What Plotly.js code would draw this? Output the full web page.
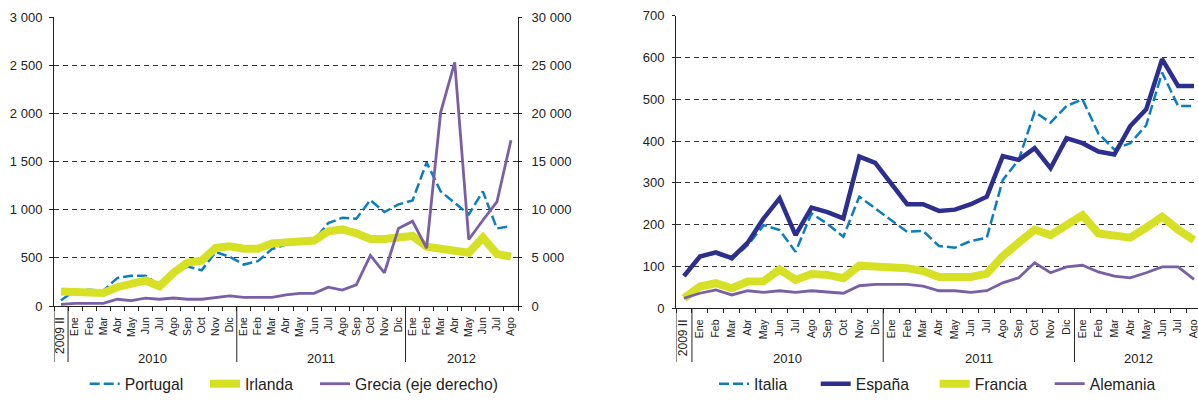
<!DOCTYPE html>
<html>
<head>
<meta charset="utf-8">
<script src="https://cdn.plot.ly/plotly-3.0.1.min.js"></script>
<style>
  html, body { margin: 0; padding: 0; background: #fff; }
  #chart { width: 1198px; height: 401px; }
</style>
</head>
<body>
<div id="chart"></div>
<script>
// ---- Categories and tick labels ----
const periods = ["2009 II",
  "Ene 2010","Feb 2010","Mar 2010","Abr 2010","May 2010","Jun 2010","Jul 2010","Ago 2010","Sep 2010","Oct 2010","Nov 2010","Dic 2010",
  "Ene 2011","Feb 2011","Mar 2011","Abr 2011","May 2011","Jun 2011","Jul 2011","Ago 2011","Sep 2011","Oct 2011","Nov 2011","Dic 2011",
  "Ene 2012","Feb 2012","Mar 2012","Abr 2012","May 2012","Jun 2012","Jul 2012","Ago 2012"];
const monthTicks = ["2009 II",
  "Ene","Feb","Mar","Abr","May","Jun","Jul","Ago","Sep","Oct","Nov","Dic",
  "Ene","Feb","Mar","Abr","May","Jun","Jul","Ago","Sep","Oct","Nov","Dic",
  "Ene","Feb","Mar","Abr","May","Jun","Jul","Ago"];
const yearLabels = ["2010", "2011", "2012"];

// ---- Left chart series ----
const portugal = [60, 160, 168, 160, 290, 315, 315, 220, 340, 410, 371, 560, 511, 430, 465, 590, 640, 670, 680, 860, 915, 905, 1100, 975, 1055, 1095, 1490, 1190, 1070, 950, 1190, 805, 830];
const irlanda  = [150, 150, 145, 135, 195, 240, 265, 205, 345, 450, 470, 605, 620, 595, 595, 650, 665, 675, 680, 775, 795, 755, 695, 695, 713, 727, 615, 598, 573, 552, 710, 540, 512];
const grecia   = [175, 270, 270, 270, 700, 550, 820, 700, 830, 700, 700, 870, 1040, 900, 900, 900, 1150, 1320, 1320, 1950, 1650, 2200, 5250, 3450, 8050, 8800, 6000, 20100, 25300, 6900, 8900, 10800, 17200];

// ---- Right chart series ----
const italia   = [80, 125, 131, 117, 151, 199, 187, 135, 227, 202, 171, 267, 239, 210, 183, 185, 149, 145, 161, 169, 307, 355, 470, 444, 484, 500, 418, 380, 395, 438, 564, 484, 484];
const espana   = [77, 124, 134, 120, 157, 215, 263, 175, 241, 230, 215, 363, 348, 300, 249, 249, 233, 236, 249, 267, 364, 355, 383, 335, 407, 395, 375, 368, 436, 476, 596, 532, 532];
const francia  = [24, 52, 60, 48, 64, 65, 93, 68, 82, 80, 72, 102, 100, 98, 96, 89, 75, 75, 75, 83, 125, 157, 188, 175, 201, 223, 179, 175, 169, 193, 219, 188, 163];
const alemania = [24, 36, 44, 32, 42, 38, 42, 38, 42, 39, 36, 54, 57, 57, 57, 53, 42, 42, 38, 42, 61, 73, 109, 85, 99, 103, 87, 77, 73, 85, 99, 99, 69];

// ---- Axis tick values / labels ----
const leftTicks = [0, 500, 1000, 1500, 2000, 2500, 3000];
const leftTickText = ["0", "500", "1 000", "1 500", "2 000", "2 500", "3 000"];
const rightTicks = [0, 5000, 10000, 15000, 20000, 25000, 30000];
const rightTickText = ["0", "5 000", "10 000", "15 000", "20 000", "25 000", "30 000"];
const right2Ticks = [0, 100, 200, 300, 400, 500, 600, 700];

// ---- Styling ----
const FONT = "Liberation Sans, Arial, sans-serif";
const TXT = "#222";
const BLUE = "#0b7dc0";
const YELLOW = "#d6e024";
const PURPLE = "#7a5fa6";
const NAVY = "#2c2f8e";

const W = 1198, H = 401;
const px2x = v => v / W;
const px2y = v => (H - v) / H;

const tickTextHtml = monthTicks.map((t, i) => i === 0 ? '<span style="font-size:12px">' + t + '</span>' : t);

const traces = [
  { x: periods, y: portugal, name: "Portugal", type: "scatter", mode: "lines", xaxis: "x", yaxis: "y",
    line: { color: BLUE, width: 2.5, dash: "10px,4px" }, legend: "legend" },
  { x: periods, y: irlanda, name: "Irlanda", type: "scatter", mode: "lines", xaxis: "x", yaxis: "y",
    line: { color: YELLOW, width: 8 }, legend: "legend2" },
  { x: periods, y: grecia, name: "Grecia (eje derecho)", type: "scatter", mode: "lines", xaxis: "x", yaxis: "y2",
    line: { color: PURPLE, width: 2.8 }, legend: "legend3" },
  { x: periods, y: italia, name: "Italia", type: "scatter", mode: "lines", xaxis: "x2", yaxis: "y3",
    line: { color: BLUE, width: 2.5, dash: "10px,4px" }, legend: "legend4" },
  { x: periods, y: espana, name: "España", type: "scatter", mode: "lines", xaxis: "x2", yaxis: "y3",
    line: { color: NAVY, width: 4.5 }, legend: "legend5" },
  { x: periods, y: francia, name: "Francia", type: "scatter", mode: "lines", xaxis: "x2", yaxis: "y3",
    line: { color: YELLOW, width: 8 }, legend: "legend6" },
  { x: periods, y: alemania, name: "Alemania", type: "scatter", mode: "lines", xaxis: "x2", yaxis: "y3",
    line: { color: PURPLE, width: 2.8 }, legend: "legend7" }
];

const leftDomainY = [px2y(306), px2y(17)];
const rightDomainY = [px2y(308.3), px2y(15.7)];

const xBase = {
  type: "category", showline: true, linecolor: TXT, linewidth: 1,
  ticks: "outside", tickson: "boundaries", ticklen: 4, tickcolor: TXT, tickwidth: 1,
  tickangle: -90, tickfont: { family: FONT, size: 10.5, color: TXT },
  tickvals: periods, ticktext: tickTextHtml, showgrid: false, zeroline: false,
  ticklabelstandoff: 6, fixedrange: true
};
const yBase = {
  showline: true, linecolor: TXT, linewidth: 1, ticks: "outside", tickcolor: TXT, tickwidth: 1,
  tickfont: { family: FONT, size: 13, color: TXT }, zeroline: false, fixedrange: true
};

// Year labels and separators (built from category indices)
const annotations = [];
const shapes = [];
const yearSpans = yearLabels.map(y => {
  const idx = periods.map((p, i) => p.endsWith(y) ? i : -1).filter(i => i >= 0);
  return { label: y, first: idx[0], last: idx[idx.length - 1] };
});
const sepYBottom = px2y(362);
[["x", leftDomainY[0]], ["x2", rightDomainY[0]]].forEach(([xr, yTop]) => {
  yearSpans.forEach(s => {
    annotations.push({
      xref: xr, yref: "paper", x: (s.first + s.last) / 2, y: px2y(358),
      text: s.label, showarrow: false, xanchor: "center", yanchor: "middle",
      font: { family: FONT, size: 13, color: TXT }
    });
  });
  const seps = [-0.5].concat(yearSpans.map(s => s.first - 0.5));
  seps.forEach(v => {
    shapes.push({ type: "line", xref: xr, yref: "paper", x0: v, x1: v, y0: yTop, y1: sepYBottom,
      line: { color: TXT, width: 1 } });
  });
});

// One legend per entry, placed under each chart
const legendStarts = [91.7, 212, 322, 721, 822.7, 941.7, 1056.7];
const legendDefs = {};
legendStarts.forEach((sx, i) => {
  const key = i === 0 ? "legend" : "legend" + (i + 1);
  legendDefs[key] = {
    orientation: "h", x: px2x(sx - 7), y: 0, xanchor: "left", yanchor: "bottom",
    font: { family: FONT, size: 15.7, color: TXT }, bgcolor: "rgba(0,0,0,0)",
    itemclick: false, itemdoubleclick: false
  };
});

const layout = Object.assign({
  width: W, height: H, autosize: false,
  margin: { l: 0, r: 0, t: 0, b: 0, pad: 0, autoexpand: false },
  paper_bgcolor: "#fff", plot_bgcolor: "#fff",
  font: { family: FONT, color: TXT },
  showlegend: true,
  xaxis: Object.assign({}, xBase, { domain: [px2x(54), px2x(518)], anchor: "y", range: [-0.5, 32.5] }),
  yaxis: Object.assign({}, yBase, {
    domain: leftDomainY, anchor: "x", range: [0, 3000], tickvals: leftTicks, ticktext: leftTickText,
    ticklen: 4, ticklabelstandoff: 4,
    showgrid: true, gridcolor: "#333", gridwidth: 1, griddash: "5px,4px"
  }),
  yaxis2: Object.assign({}, yBase, {
    overlaying: "y", side: "right", anchor: "x", range: [0, 30000], tickvals: rightTicks, ticktext: rightTickText,
    ticklen: 3, ticklabelstandoff: 7, showgrid: false
  }),
  xaxis2: Object.assign({}, xBase, { domain: [px2x(676), 1], anchor: "y3", range: [-0.5, 32.25] }),
  yaxis3: Object.assign({}, yBase, {
    domain: rightDomainY, anchor: "x2", range: [0, 700], tickvals: right2Ticks,
    ticklen: 3, ticklabelstandoff: 5,
    showgrid: true, gridcolor: "#333", gridwidth: 1, griddash: "5px,4px"
  }),
  annotations: annotations,
  shapes: shapes
}, legendDefs);

Plotly.newPlot("chart", traces, layout, { staticPlot: true, displayModeBar: false });
</script>
</body>
</html>
